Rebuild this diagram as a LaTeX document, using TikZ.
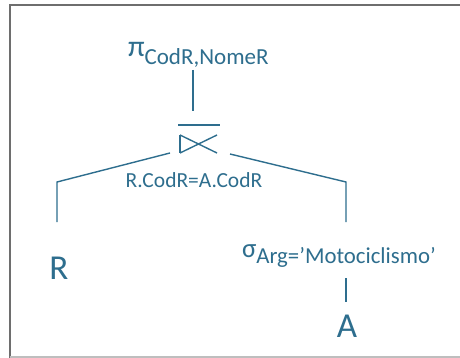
\documentclass[tikz,border=0pt]{standalone}
\usepackage{fontspec}
\setmainfont{Carlito}
\definecolor{ink}{RGB}{46,110,142}
\definecolor{frameD}{RGB}{110,110,110}
\definecolor{frameL}{RGB}{190,190,190}
\begin{document}
\begin{tikzpicture}[x=1pt,y=-1pt,
  lbl/.style={inner sep=0pt,outer sep=0pt,text=ink},
  edge/.style={draw=ink,line width=1.4pt}]
\useasboundingbox (0,0) rectangle (460,358);
\fill[white] (0,0) rectangle (460,358);
% frame
\draw[frameD,line width=2pt] (9.5,358) -- (9.5,5.5) -- (460,5.5);
\draw[frameL,line width=1.5pt] (9.5,357.2) -- (460,357.2);
% projection
\node[lbl,anchor=base west] (proj) at (128,57)
  {\fontsize{30}{30}\selectfont π\raisebox{-8pt}{\fontsize{23}{23}\selectfont CodR,NomeR}};
% join symbol
\coordinate (jtop) at (193,111);
\coordinate (ptop) at (193,70);
\coordinate (bl) at (178,125);
\coordinate (br) at (220,125);
\coordinate (j1) at (180,135);
\coordinate (j2) at (180,153);
\coordinate (j3) at (217,135);
\coordinate (j4) at (217,153);
\draw[edge] (bl) -- (br);
\draw[edge] (j1) -- (j2);
\draw[edge] (j1) -- (j4);
\draw[edge] (j2) -- (j3);
\draw[edge] (ptop) -- (jtop);
\node[lbl,anchor=base] (cond) at (194,187) {\fontsize{21.5}{21.5}\selectfont R.CodR=A.CodR};
% branches
\coordinate (jl) at (170,153);
\coordinate (kl) at (57,182);
\coordinate (ll) at (57,222);
\coordinate (jr) at (230,154);
\coordinate (kr) at (346,182);
\coordinate (lr) at (346,222);
\draw[edge] (jl) -- (kl) -- (ll);
\draw[edge] (jr) -- (kr) -- (lr);
\node[lbl,anchor=base] (R) at (59,279) {\fontsize{35}{35}\selectfont R};
\node[lbl,anchor=base west] (sel) at (242,257)
  {\fontsize{27}{27}\selectfont σ\raisebox{-6pt}{\fontsize{22.8}{22.8}\selectfont Arg=’Motociclismo’}};
\coordinate (s1) at (346,278);
\coordinate (s2) at (346,302);
\draw[edge] (s1) -- (s2);
\node[lbl,anchor=base] (A) at (347,337) {\fontsize{35}{35}\selectfont A};
\end{tikzpicture}
\end{document}
